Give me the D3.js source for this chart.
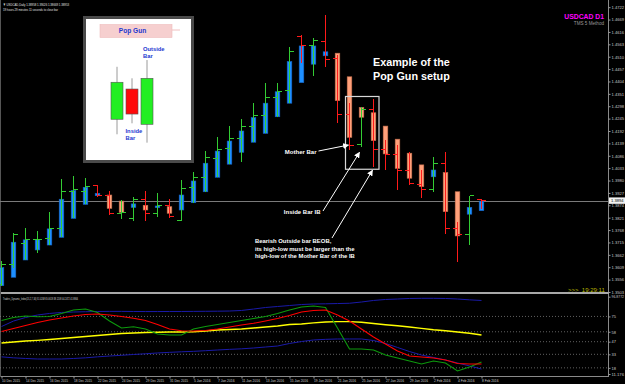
<!DOCTYPE html>
<html>
<head>
<meta charset="utf-8">
<script src="https://cdn.jsdelivr.net/npm/d3@7"></script>
<style>
  html, body { margin: 0; padding: 0; background: #000; }
  svg { display: block; font-family: "Liberation Sans", Arial, sans-serif; }
</style>
</head>
<body>
<svg id="chart"></svg>
<script>
// daily bars, USDCAD D1
const dates = ["10 Dec 2015","11 Dec 2015","14 Dec 2015","15 Dec 2015","16 Dec 2015","17 Dec 2015","18 Dec 2015",
  "21 Dec 2015","22 Dec 2015","23 Dec 2015","24 Dec 2015","28 Dec 2015","29 Dec 2015","30 Dec 2015","31 Dec 2015",
  "4 Jan 2016","5 Jan 2016","6 Jan 2016","7 Jan 2016","8 Jan 2016","11 Jan 2016","12 Jan 2016","13 Jan 2016",
  "14 Jan 2016","15 Jan 2016","18 Jan 2016","19 Jan 2016","20 Jan 2016","21 Jan 2016","22 Jan 2016","25 Jan 2016",
  "26 Jan 2016","27 Jan 2016","28 Jan 2016","29 Jan 2016","1 Feb 2016","2 Feb 2016","3 Feb 2016","4 Feb 2016",
  "5 Feb 2016","8 Feb 2016"]

const open  = [1.3537,1.3622,1.3711,1.3726,1.3733,1.3776,1.3935,1.3935,1.3957,1.3918,1.3840,1.3818,1.3900,1.3840,1.3875,
  1.3811,1.3951,1.3994,1.4075,1.4115,1.4161,1.4213,1.4258,1.4336,1.4365,1.4596,1.4556,1.4577,1.4503,1.4264,1.4136,
  1.4285,1.4114,1.4092,1.4022,1.3965,1.3942,1.4051,1.3776,1.3750,1.3897]
const high  = [1.3636,1.3754,1.3778,1.3764,1.3845,1.3985,1.3999,1.3990,1.3960,1.3935,1.3897,1.3911,1.3937,1.3925,1.3900,
  1.3982,1.4018,1.4106,1.4168,1.4213,1.4243,1.4311,1.4396,1.4396,1.4550,1.4603,1.4589,1.4689,1.4517,1.4312,1.4293,
  1.4329,1.4154,1.4132,1.4103,1.4025,1.4082,1.4101,1.3803,1.3914,1.3902]
const low   = [1.3529,1.3606,1.3640,1.3669,1.3704,1.3737,1.3818,1.3878,1.3911,1.3833,1.3814,1.3808,1.3808,1.3825,1.3818,
  1.3807,1.3885,1.3932,1.3994,1.4050,1.4061,1.4144,1.4182,1.4253,1.4311,1.4484,1.4427,1.4467,1.4225,1.4111,1.4122,
  1.4039,1.4025,1.3940,1.3961,1.3904,1.3932,1.3750,1.3633,1.3704,1.3857]
const close = [1.3621,1.3747,1.3729,1.3729,1.3776,1.3932,1.3942,1.3954,1.3915,1.3840,1.3845,1.3900,1.3840,1.3875,1.3825,
  1.3947,1.3995,1.4079,1.4111,1.4161,1.4213,1.4258,1.4336,1.4363,1.4531,1.4556,1.4579,1.4499,1.4264,1.4132,1.4285,
  1.4114,1.4092,1.4022,1.3968,1.3942,1.4051,1.3776,1.3750,1.3914,1.3894]

// heiken ashi bodies drawn over the bars
const haOpen  = [1.3530,1.3566,1.3640,1.3683,1.3704,1.3737,1.3818,1.3878,1.3915,1.3918,1.3892,1.3865,1.3874,1.3864,1.3868,
  1.3854,1.3885,1.3932,1.3994,1.4050,1.4101,1.4144,1.4182,1.4253,1.4311,1.4399,1.4478,1.4514,1.4525,1.4424,1.4293,
  1.4270,1.4213,1.4157,1.4097,1.4047,1.3996,1.4014,1.3932,1.3836,1.3851]
const haClose = [1.3607,1.3716,1.3726,1.3726,1.3773,1.3900,1.3937,1.3951,1.3925,1.3861,1.3844,1.3880,1.3854,1.3871,1.3840,
  1.3918,1.3978,1.4054,1.4106,1.4149,1.4192,1.4249,1.4311,1.4360,1.4489,1.4556,1.4556,1.4531,1.4322,1.4165,1.4251,
  1.4151,1.4094,1.4032,1.3990,1.3954,1.4025,1.3847,1.3743,1.3865,1.3892]

const priceTicks = [1.4722,1.4669,1.4616,1.4563,1.4510,1.4457,1.4404,1.4351,1.4298,1.4245,1.4192,1.4139,1.4086,1.4033,
  1.3980,1.3927,1.3874,1.3821,1.3768,1.3715,1.3662,1.3609,1.3556,1.3503]

// Traders Dynamic Index
const tdiUpper  = [63.8,69.9,73.8,76.6,78.3,79.4,79.9,80.2,80.5,80.6,80.6,80.5,80.4,80.4,80.5,80.5,80.6,80.7,80.8,81.0,
  81.6,83.2,84.9,86.0,87.1,88.2,88.8,89.0,89.3,89.6,91.0,92.7,93.8,94.3,94.9,95.1,95.1,94.9,94.3,93.4,92.7]
const tdiLower  = [30.2,29.1,28.4,27.8,27.8,27.8,28.4,29.1,30.2,31.1,31.9,32.8,33.6,34.5,35.2,35.8,36.3,37.0,37.8,38.5,
  39.1,40.0,41.1,42.2,45.0,47.2,48.9,49.6,50.0,50.0,50.0,48.3,45.0,40.6,36.1,32.2,29.5,26.7,23.4,20.1,16.7]
const tdiBase   = [45.5,46.7,47.8,48.5,49.4,50.5,51.6,52.8,53.9,55.0,56.1,56.6,57.2,57.5,57.7,57.7,58.1,58.8,60.0,60.5,
  61.1,62.2,63.3,64.4,66.1,66.6,67.9,68.8,69.2,69.2,68.5,67.2,65.8,64.6,63.3,61.8,60.3,59.1,57.7,56.3,54.4]
const tdiRsi    = [70.5,73.8,75.5,74.7,74.9,78.3,82.1,83.2,79.4,69.9,62.2,63.6,61.1,55.5,54.4,54.4,61.1,63.8,66.1,68.3,
  70.5,72.7,74.9,78.3,82.1,85.5,86.6,84.9,62.2,38.9,38.9,37.8,32.2,28.9,25.6,22.3,25.6,23.4,14.5,18.9,24.5]
const tdiSignal = [58.3,61.6,64.9,68.3,71.0,73.3,75.5,77.1,77.7,76.6,74.9,72.9,70.5,66.1,61.1,59.2,58.8,59.4,61.1,63.3,
  65.5,67.4,69.9,72.7,76.0,79.9,81.6,82.1,76.6,69.9,61.1,52.2,44.4,36.7,31.1,30.0,28.9,26.7,22.8,22.3,22.3]
const tdiLevels = [75, 58, 47, 33, 18]
const tdiRange  = [11.176, 96.8772]

// pop gun sketch in the inset (open, high, low, close on a 0-100 scale)
const sketchOpen  = [28.6, 62.2, 23.0]
const sketchHigh  = [86.9, 74.1, 94.4]
const sketchLow   = [11.9, 24.1, 2.6]
const sketchClose = [69.7, 34.4, 74.1]

const motherIdx = 29, insideIdx = 30, outsideIdx = 31

const width = 625, height = 384
const svg = d3.select("#chart").attr("width", width).attr("height", height)
svg.append("rect").attr("width", width).attr("height", height).attr("fill", "#000")

const x = d3.scaleLinear().domain([0, 40]).range([1.5, 481.5])
const y = d3.scaleLinear().domain([1.35072, 1.47527]).range([291, 0])
const yi = d3.scaleLinear().domain(tdiRange).range([374, 296.7])

const defs = svg.append("defs")
defs.append("clipPath").attr("id", "mainClip").append("rect")
  .attr("x", 0).attr("y", 0).attr("width", 608).attr("height", 292)
defs.append("clipPath").attr("id", "indClip").append("rect")
  .attr("x", 0).attr("y", 294).attr("width", 608).attr("height", 82)
defs.append("marker").attr("id", "arrow")
  .attr("viewBox", "0 0 10 10").attr("refX", 9).attr("refY", 5)
  .attr("markerWidth", 6).attr("markerHeight", 6)
  .attr("markerUnits", "userSpaceOnUse").attr("orient", "auto")
  .append("path").attr("d", "M0,0 L10,5 L0,10 z").attr("fill", "#fff")

// frames
svg.append("line").attr("x1", 608.5).attr("x2", 608.5).attr("y1", 0).attr("y2", 377)
  .attr("stroke", "#8a8a8a")
svg.append("line").attr("x1", 0).attr("x2", 609).attr("y1", 293).attr("y2", 293)
  .attr("stroke", "#a8a8a8").attr("stroke-width", 2)
svg.append("line").attr("x1", 0).attr("x2", 609).attr("y1", 376.5).attr("y2", 376.5)
  .attr("stroke", "#8a8a8a")
svg.append("line").attr("x1", 0.5).attr("x2", 0.5).attr("y1", 0).attr("y2", 377)
  .attr("stroke", "#555")

const main = svg.append("g").attr("clip-path", "url(#mainClip)")

// bid line
main.append("line").attr("x1", 0).attr("x2", 608)
  .attr("y1", Math.round(y(close[40])) + 0.5).attr("y2", Math.round(y(close[40])) + 0.5)
  .attr("stroke", "#7a7a7a")

const idx = d3.range(dates.length)

// heiken ashi bodies
main.append("g").selectAll("rect")
  .data(idx)
  .enter().append("rect")
  .attr("x", i => x(i) - 2.3)
  .attr("width", 4.6)
  .attr("y", i => y(Math.max(haOpen[i], haClose[i])))
  .attr("height", i => Math.max(1.5, y(Math.min(haOpen[i], haClose[i])) - y(Math.max(haOpen[i], haClose[i]))))
  .attr("fill", i => haClose[i] >= haOpen[i] ? "#1e90ff" : "#ffa07a")
  .attr("stroke", i => haClose[i] >= haOpen[i] ? "#1565c8" : "#c8704e")
  .attr("stroke-width", 0.6)

// ohlc bars
const barColor = i => close[i] >= open[i] ? "#33cc33" : "#ff1a1a"
const bars = main.append("g").attr("shape-rendering", "crispEdges")
bars.selectAll(".hl").data(idx).enter().append("line")
  .attr("x1", i => x(i)).attr("x2", i => x(i))
  .attr("y1", i => y(high[i])).attr("y2", i => y(low[i]))
  .attr("stroke", barColor)
bars.selectAll(".op").data(idx).enter().append("line")
  .attr("x1", i => x(i) - 4.5).attr("x2", i => x(i))
  .attr("y1", i => y(open[i])).attr("y2", i => y(open[i]))
  .attr("stroke", barColor)
bars.selectAll(".cl").data(idx).enter().append("line")
  .attr("x1", i => x(i)).attr("x2", i => x(i) + 4.5)
  .attr("y1", i => y(close[i])).attr("y2", i => y(close[i]))
  .attr("stroke", barColor)

// price axis
const yAxis = svg.append("g").attr("transform", "translate(608.5,0)")
  .call(d3.axisRight(y).tickValues(priceTicks).tickFormat(d3.format(".4f")).tickSize(2).tickPadding(1))
yAxis.select(".domain").remove()
yAxis.selectAll("line").attr("stroke", "#9a9a9a")
yAxis.selectAll("text").attr("fill", "#c8c8c8").attr("font-size", 4.2)
  .attr("textLength", 12.5).attr("lengthAdjust", "spacingAndGlyphs")

// current price box
svg.append("rect").attr("x", 609).attr("y", y(close[40]) - 3.2).attr("width", 16).attr("height", 6.4)
  .attr("fill", "#f2f2f2")
svg.append("text").attr("x", 611).attr("y", y(close[40]) + 1.6).text(close[40].toFixed(4))
  .attr("fill", "#000").attr("font-size", 4.2).attr("textLength", 12.5).attr("lengthAdjust", "spacingAndGlyphs")

// header texts
svg.append("text").attr("x", 3).attr("y", 5.5).attr("fill", "#e0e0e0").attr("font-size", 4.3)
  .attr("textLength", 66).attr("lengthAdjust", "spacingAndGlyphs")
  .text("\u25BC USDCAD,Daily  1.38958 1.39026 1.38669 1.38953")
svg.append("text").attr("x", 3).attr("y", 11).attr("fill", "#e0e0e0").attr("font-size", 4.3)
  .attr("textLength", 55).attr("lengthAdjust", "spacingAndGlyphs")
  .text("19 hours 29 minutes 11 seconds to close bar")
svg.append("text").attr("x", 604).attr("y", 18.5).attr("text-anchor", "end")
  .attr("fill", "#ff00ff").attr("font-size", 6.8).attr("font-weight", "bold").text("USDCAD D1")
svg.append("text").attr("x", 604).attr("y", 24.5).attr("text-anchor", "end")
  .attr("fill", "#9a9a9a").attr("font-size", 4.6).text("TMS 5 Method")
svg.append("text").attr("x", 568).attr("y", 292).attr("fill", "#b8b800").attr("font-size", 6)
  .attr("xml:space", "preserve").text(">>>  19:29:11")

// pop gun inset
const inset = svg.append("g")
inset.append("rect").attr("x", 83).attr("y", 16).attr("width", 111).attr("height", 147).attr("fill", "#4a4a4a")
inset.append("rect").attr("x", 86).attr("y", 19).attr("width", 105).attr("height", 141).attr("fill", "#fff")
inset.append("rect").attr("x", 100).attr("y", 24.5).attr("width", 72).attr("height", 13)
  .attr("fill", "#f6cfcf").attr("stroke", "#efbcbc").attr("stroke-width", 0.6)
inset.append("line").attr("x1", 172).attr("x2", 180).attr("y1", 30).attr("y2", 30)
  .attr("stroke", "#f0c0c0")
inset.append("text").attr("x", 132.5).attr("y", 33).attr("text-anchor", "middle")
  .attr("fill", "#2438d0").attr("font-size", 6.6).attr("font-weight", "bold").text("Pop Gun")
const sx = d3.scalePoint().domain([0, 1, 2]).range([117, 147])
const sy = d3.scaleLinear().domain([0, 100]).range([145, 55])
const sIdx = [0, 1, 2]
inset.selectAll(".wick").data(sIdx).enter().append("line")
  .attr("x1", i => sx(i)).attr("x2", i => sx(i))
  .attr("y1", i => sy(sketchHigh[i])).attr("y2", i => sy(sketchLow[i]))
  .attr("stroke", "#9a9a9a").attr("stroke-width", 1)
inset.selectAll(".sbody").data(sIdx).enter().append("rect")
  .attr("x", i => sx(i) - 6).attr("width", 12)
  .attr("y", i => sy(Math.max(sketchOpen[i], sketchClose[i])))
  .attr("height", i => Math.abs(sy(sketchOpen[i]) - sy(sketchClose[i])))
  .attr("fill", i => sketchClose[i] > sketchOpen[i] ? "#22ee22" : "#ff0a0a")
  .attr("stroke", "#555").attr("stroke-width", 0.6)
const sketchText = inset.append("g").attr("fill", "#2438d0").attr("font-size", 5.8).attr("font-weight", "bold")
sketchText.append("text").attr("x", 143).attr("y", 50.5).text("Outside")
sketchText.append("text").attr("x", 143).attr("y", 57.5).text("Bar")
sketchText.append("text").attr("x", 125.5).attr("y", 132.5).text("Inside")
sketchText.append("text").attr("x", 125.5).attr("y", 139.5).text("Bar")

// annotations
const boxTop = y(d3.max([high[motherIdx], high[insideIdx], high[outsideIdx]])) - 2.5
const boxBottom = y(d3.min([low[motherIdx], low[insideIdx], low[outsideIdx]])) + 2.5
svg.append("rect").attr("x", x(motherIdx) - 4).attr("y", boxTop)
  .attr("width", x(outsideIdx) - x(motherIdx) + 9.5).attr("height", boxBottom - boxTop)
  .attr("fill", "none").attr("stroke", "#d8d8d8").attr("stroke-width", 1.2)

const note = svg.append("g").attr("fill", "#fff").attr("font-weight", "bold")
note.append("text").attr("x", 373).attr("y", 66).attr("font-size", 10.8).text("Example of the")
note.append("text").attr("x", 373).attr("y", 79.5).attr("font-size", 10.8).text("Pop Gun setup")
note.append("text").attr("x", 316.5).attr("y", 153.5).attr("text-anchor", "end").attr("font-size", 6).text("Mother Bar")
note.append("text").attr("x", 320.5).attr("y", 214).attr("text-anchor", "end").attr("font-size", 6).text("Inside Bar IB")
note.append("text").attr("x", 255).attr("y", 243).attr("font-size", 5.9).text("Bearish Outside bar BEOB,")
note.append("text").attr("x", 255).attr("y", 250.5).attr("font-size", 5.9).text("its high-low must be larger than the")
note.append("text").attr("x", 255).attr("y", 258).attr("font-size", 5.9).text("high-low of the Mother Bar of the IB")

const arrows = [
  [318.5, 151, x(motherIdx) - 1, y(close[motherIdx])],
  [323, 211, x(insideIdx) - 2, y(low[insideIdx]) + 5],
  [332, 238, x(outsideIdx) - 1, boxBottom + 1]
]
svg.append("g").selectAll("line").data(arrows).enter().append("line")
  .attr("x1", d => d[0]).attr("y1", d => d[1]).attr("x2", d => d[2]).attr("y2", d => d[3])
  .attr("stroke", "#fff").attr("stroke-width", 1).attr("marker-end", "url(#arrow)")

// indicator panel
const ind = svg.append("g").attr("clip-path", "url(#indClip)")
ind.selectAll(".lvl").data(tdiLevels).enter().append("line")
  .attr("x1", 0).attr("x2", 608).attr("y1", d => yi(d)).attr("y2", d => yi(d))
  .attr("stroke", "#8a8a8a").attr("stroke-width", 0.7).attr("stroke-dasharray", "1,2")

const tdiLine = vals => d3.line().x((d, i) => x(i)).y(d => yi(d))(vals)
const tdiSeries = [
  [tdiUpper, "#1a1aa8", 1],
  [tdiLower, "#1a1aa8", 1],
  [tdiBase, "#ffff00", 1.4],
  [tdiRsi, "#0d9a0d", 1.1],
  [tdiSignal, "#ff0000", 1.1]
]
ind.selectAll(".tdi").data(tdiSeries).enter().append("path")
  .attr("d", d => tdiLine(d[0]))
  .attr("fill", "none").attr("stroke", d => d[1]).attr("stroke-width", d => d[2])

svg.append("text").attr("x", 3).attr("y", 299.5).attr("fill", "#d8d8d8").attr("font-size", 4.2)
  .attr("textLength", 75).attr("lengthAdjust", "spacingAndGlyphs")
  .text("Traders_Dynamic_Index(13,2,7,34) 51.0208 65.0618 38.1208 44.2472 41.8806")

const iAxis = svg.append("g").attr("transform", "translate(608.5,0)")
  .call(d3.axisRight(yi).tickValues(tdiLevels.concat(tdiRange)).tickFormat(d3.format("~f")).tickSize(2).tickPadding(1))
iAxis.select(".domain").remove()
iAxis.selectAll("line").attr("stroke", "#9a9a9a")
iAxis.selectAll("text").attr("fill", "#c8c8c8").attr("font-size", 4)
  .filter(d => String(d).length > 3)
  .attr("textLength", 12.5).attr("lengthAdjust", "spacingAndGlyphs")

// date axis
const xAxis = svg.append("g").attr("transform", "translate(0,376.5)")
  .call(d3.axisBottom(x).tickValues(idx.filter(i => i % 2 === 0)).tickFormat(i => dates[i]).tickSize(2).tickPadding(1))
xAxis.select(".domain").remove()
xAxis.selectAll("line").attr("stroke", "#9a9a9a")
xAxis.selectAll("text").attr("fill", "#d0d0d0").attr("font-size", 4).attr("text-anchor", "start")
  .attr("textLength", i => dates[i].length > 10 ? 18 : 16.5).attr("lengthAdjust", "spacingAndGlyphs")
</script>
</body>
</html>
